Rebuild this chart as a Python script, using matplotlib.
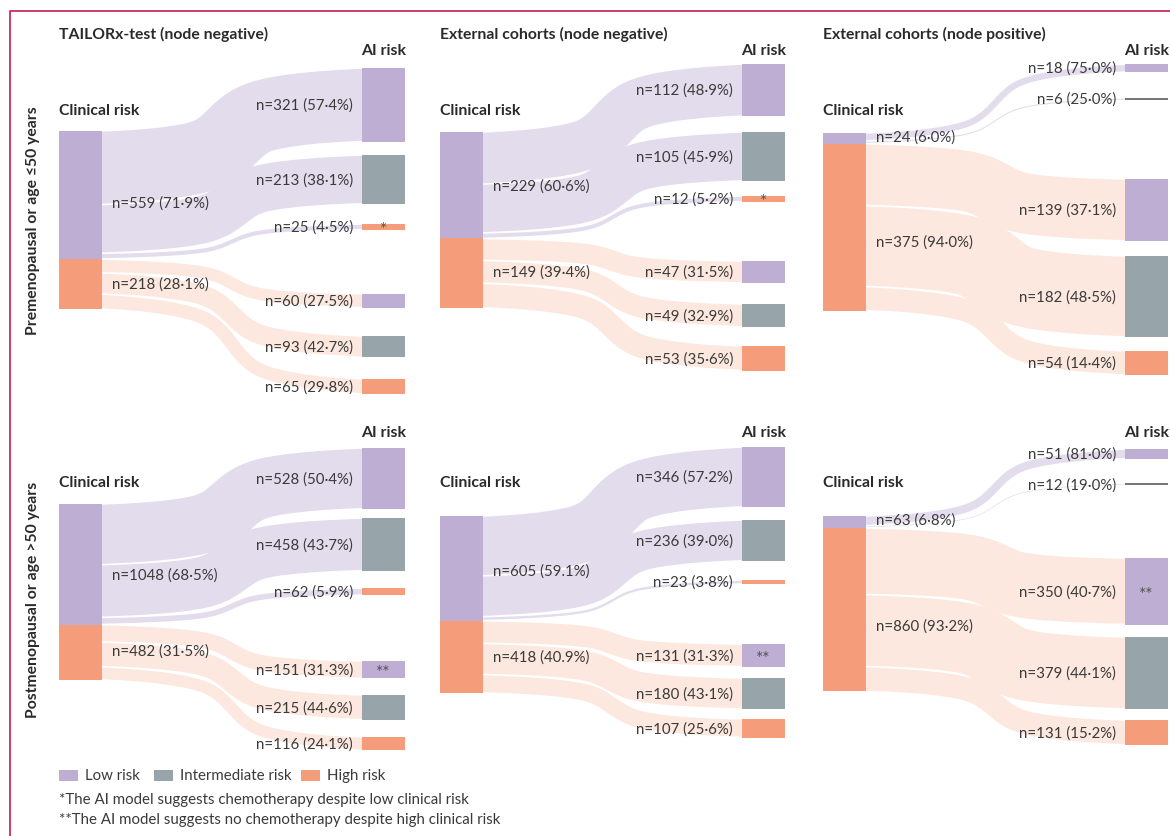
import matplotlib.pyplot as plt
from matplotlib.patches import Rectangle
import numpy as np

plt.rcParams['font.family'] = ['Lato', 'DejaVu Sans']

# colours for node categories and the lighter flow bands
LOW, INTER, HIGH = "#bfaed3", "#97a4aa", "#f59c7b"
FLOW_LOW, FLOW_HIGH = "#e3dcec", "#fce8df"
THIN = "#777777"
TXT = "#3a3a3a"
HEAD = "#2a2a2a"

titles = ["TAILORx-test (node negative)", "External cohorts (node negative)",
          "External cohorts (node positive)", None, None, None]
row_labels = ["Premenopausal or age \u226450 years", "Postmenopausal or age >50 years"]

# clinical risk groups per panel: [low, high]
clinical_n = [[559, 218], [229, 149], [24, 375],
              [1048, 482], [605, 418], [63, 860]]

# AI risk per clinical group: [low, intermediate, high]
ai_n = [
    [[321, 213, 25], [60, 93, 65]],
    [[112, 105, 12], [47, 49, 53]],
    [[18, 6], [139, 182, 54]],
    [[528, 458, 62], [151, 215, 116]],
    [[346, 236, 23], [131, 180, 107]],
    [[51, 12], [350, 379, 131]],
]
# discordant groups flagged with footnote marks: (panel, clinical group, ai category)
flags = {(0, 0, 2): "*", (1, 0, 2): "*", (3, 1, 0): "**", (4, 1, 0): "**", (5, 1, 0): "**"}
decimal_sep = ["\u00b7", "\u00b7", "\u00b7", "\u00b7", ".", "\u00b7"]

legend_labels = ["Low risk", "Intermediate risk", "High risk"]
footnotes = ["*The AI model suggests chemotherapy despite low clinical risk",
             "**The AI model suggests no chemotherapy despite high clinical risk"]

# layout (pixels)
left_x = [59, 440, 823, 59, 440, 823]
right_x = [362, 742, 1125, 362, 742, 1125]
node_w = 43
scale = [0.229, 0.465, 0.445, 0.115, 0.173, 0.19]
left_top = [132, 133, 134, 505, 517, 517]
right_tops = [
    [[69, 156, 225], [295, 337, 380]],
    [[65, 133, 197], [262, 305, 347]],
    [[65, 98.7], [180, 257, 352]],
    [[449, 519, 589], [662, 696, 738]],
    [[448, 521, 581], [645, 679, 720]],
    [[450, 484], [559, 638, 721]],
]
# vertical nudges of the clinical-node labels off the node centre
left_label_dy = [[8, 0], [0, -2], [-2, 14], [10, -2], [2, 0], [-2, 16]]
clin_y = [111, 483]
ai_y = [51, 433]
title_y = 34
gap_px = 1.6

W, H = 1170, 837
fig = plt.figure(figsize=(W / 100, H / 100), dpi=100)
ax = fig.add_axes([0, 0, 1, 1])
ax.set_xlim(0, W)
ax.set_ylim(H, 0)
ax.axis("off")


def pct(v, total, sep):
    return f"{100 * v / total:.1f}".replace(".", sep)


# link centre line: gentle drift plus a tight bend in the middle,
# easing to horizontal at both ends
u = np.linspace(0, 1, 240)
_lg = 1 / (1 + np.exp(-26 * (u - 0.5)))
bend = (_lg - _lg[0]) / (_lg[-1] - _lg[0])
drift = u - np.sin(2 * np.pi * u) / (2 * np.pi) * 0.6
shape = 0.5 * drift + 0.5 * bend


def link(x0, x1, y0, y1, width_px, color):
    xs = np.concatenate([[x0 - 12], x0 + (x1 - x0) * u, [x1 + 12]])
    ys = y0 + (y1 - y0) * shape
    ys = np.concatenate([[y0], ys, [y1]])
    lw = max(width_px - gap_px, 0.6) * 72 / 100
    line, = ax.plot(xs, ys, color=color, lw=lw, solid_capstyle="butt",
                    solid_joinstyle="round", zorder=1)
    clip = Rectangle((x0, 0), x1 - x0, H, transform=ax.transData)
    line.set_clip_path(clip)


ai_colors = [LOW, INTER, HIGH]
fs = 10.8
fb = 11.3
for p in range(6):
    row = p // 3
    s = scale[p]
    lx, rx = left_x[p], right_x[p]
    total = sum(clinical_n[p])
    y = left_top[p]
    for g, n in enumerate(clinical_n[p]):
        h = n * s
        ax.add_patch(Rectangle((lx, y), node_w, h, facecolor=[LOW, HIGH][g],
                               edgecolor="none", zorder=3))
        ax.text(lx + node_w + 10, y + h / 2 + left_label_dy[p][g],
                f"n={n} ({pct(n, total, decimal_sep[p])}%)",
                ha="left", va="center", fontsize=fs, color=TXT, zorder=4)
        # flows from this clinical group to the AI risk nodes
        sy = y
        flow_col = [FLOW_LOW, FLOW_HIGH][g]
        for k, m in enumerate(ai_n[p][g]):
            fh = m * s
            ty = right_tops[p][g][k]
            link(lx + node_w, rx, sy + fh / 2, ty + fh / 2, fh, flow_col)
            node_col = ai_colors[k] if fh >= 3 else THIN
            ax.add_patch(Rectangle((rx, ty), node_w, fh, facecolor=node_col,
                                   edgecolor="none", zorder=3))
            ax.text(rx - 9, ty + fh / 2,
                    f"n={m} ({pct(m, n, decimal_sep[0])}%)",
                    ha="right", va="center", fontsize=fs, color=TXT, zorder=4)
            if (p, g, k) in flags:
                ax.text(rx + node_w / 2, ty + fh / 2 + 2.5, flags[(p, g, k)],
                        ha="center", va="center", fontsize=12.5, color="#555555", zorder=5)
            sy += fh
        y += h
    ax.text(lx, clin_y[row], "Clinical risk", ha="left", va="center",
            fontsize=fb, fontweight="bold", color=HEAD)
    ax.text(rx + node_w / 2, ai_y[row], "AI risk", ha="center", va="center",
            fontsize=fb, fontweight="bold", color=HEAD)
    if titles[p]:
        ax.text(lx, title_y, titles[p], ha="left", va="center",
                fontsize=fb, fontweight="bold", color=HEAD)

for r, lab in enumerate(row_labels):
    ax.text(33, [221, 600][r], lab, rotation=90, ha="center", va="center",
            fontsize=fb, fontweight="bold", color=HEAD)

# legend and footnotes
lg_x = [59, 154, 301]
for x, c, lab in zip(lg_x, ai_colors, legend_labels):
    ax.add_patch(Rectangle((x, 771), 19, 11, facecolor=c, edgecolor="none"))
    ax.text(x + 26, 776.5, lab, ha="left", va="center", fontsize=fs, color=TXT)
for i, note in enumerate(footnotes):
    ax.text(59, 800 + 20 * i, note, ha="left", va="center", fontsize=fs, color=TXT)

# frame rule
ax.plot([10, 10, W], [H, 12, 12], color="#c8194f", lw=1.2, solid_capstyle="butt")

fig.savefig("out.png", dpi=100)
